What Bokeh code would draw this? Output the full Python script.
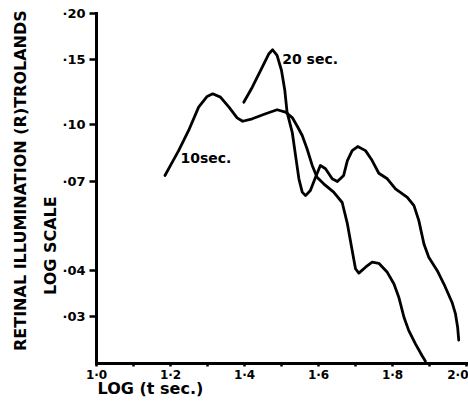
import math
from bokeh.plotting import figure
from bokeh.models import Label, FixedTicker
from bokeh.embed import file_html
from bokeh.resources import INLINE

# Data (x = log t sec, y = retinal illumination, log scale)
x_10sec = [1.185, 1.200, 1.222, 1.249, 1.276, 1.299, 1.314, 1.335, 1.358, 1.380,
           1.395, 1.421, 1.457, 1.488, 1.511, 1.529, 1.543, 1.556, 1.569, 1.583,
           1.596, 1.614, 1.641, 1.664, 1.678, 1.691, 1.700, 1.709, 1.727, 1.745,
           1.763, 1.786, 1.804, 1.817, 1.831, 1.844, 1.862, 1.880, 1.889]
y_10sec = [0.0726, 0.0773, 0.0848, 0.0962, 0.1113, 0.1190, 0.1210, 0.1185, 0.1113, 0.1041,
           0.1019, 0.1035, 0.1068, 0.1095, 0.1079, 0.1043, 0.0986, 0.0932, 0.0858, 0.0773,
           0.0718, 0.0689, 0.0654, 0.0613, 0.0537, 0.0454, 0.0405, 0.0394, 0.0409, 0.0422,
           0.0419, 0.0396, 0.0368, 0.0339, 0.0299, 0.0275, 0.0253, 0.0235, 0.0227]

x_20sec = [1.398, 1.421, 1.448, 1.466, 1.476, 1.488, 1.500, 1.509, 1.515, 1.529,
           1.538, 1.547, 1.556, 1.565, 1.578, 1.592, 1.605, 1.619, 1.637, 1.651,
           1.668, 1.678, 1.691, 1.706, 1.727, 1.745, 1.763, 1.786, 1.808, 1.840,
           1.858, 1.871, 1.885, 1.898, 1.921, 1.939, 1.961, 1.970, 1.976, 1.979]
y_20sec = [0.1148, 0.1261, 0.1429, 0.1555, 0.1594, 0.1538, 0.1400, 0.1235, 0.1079, 0.0951,
           0.0822, 0.0711, 0.0654, 0.0640, 0.0661, 0.0718, 0.0773, 0.0757, 0.0711, 0.0699,
           0.0726, 0.0797, 0.0848, 0.0870, 0.0848, 0.0797, 0.0736, 0.0711, 0.0668, 0.0633,
           0.0601, 0.0548, 0.0473, 0.0435, 0.0400, 0.0368, 0.0328, 0.0306, 0.0281, 0.0259]

x_ticks = [1.0, 1.2, 1.4, 1.6, 1.8, 2.0]
x_minor = [1.1, 1.3, 1.5, 1.7, 1.9]
x_labels = ["1·0", "1·2", "1·4", "1·6", "1·8", "2·0"]
y_ticks = [0.03, 0.04, 0.07, 0.10, 0.15, 0.20]
y_labels = ["·03", "·04", "·07", "·10", "·15", "·20"]
x_axis_span = (1.0, 2.0)
y_axis_span = (0.02238, 0.2)

FONT = "DejaVu Sans"

p = figure(width=468, height=410, x_range=(0.7405, 2.0054), y_range=(0.016682, 0.21694),
           y_axis_type="log", output_backend="svg", toolbar_location=None,
           min_border_left=0, min_border_right=0, min_border_top=0, min_border_bottom=0)
p.outline_line_color = None
p.grid.visible = False
p.background_fill_color = "white"
p.border_fill_color = "white"

for ax in (p.xaxis[0], p.yaxis[0]):
    ax.axis_line_width = 3
    ax.axis_line_color = "black"
    ax.axis_line_cap = "square"
    ax.major_tick_line_width = 2.5
    ax.minor_tick_line_width = 2.5
    ax.major_tick_in = 0
    ax.minor_tick_in = 0
    ax.major_label_text_font = FONT
    ax.major_label_text_font_style = "bold"
    ax.major_label_text_color = "black"

p.xaxis.fixed_location = y_axis_span[0]
p.xaxis.bounds = x_axis_span
p.xaxis.ticker = FixedTicker(ticks=x_ticks, minor_ticks=x_minor)
p.xaxis.major_label_overrides = dict(zip(x_ticks, x_labels))
p.xaxis.major_tick_out = 3
p.xaxis.minor_tick_out = 3
p.xaxis.major_label_standoff = 1
p.xaxis.major_label_text_font_size = "12px"

p.yaxis.fixed_location = x_axis_span[0]
p.yaxis.bounds = y_axis_span
p.yaxis.ticker = FixedTicker(ticks=y_ticks, minor_ticks=[])
p.yaxis.major_label_overrides = dict(zip(y_ticks, y_labels))
p.yaxis.major_tick_out = 7
p.yaxis.minor_tick_out = 0
p.yaxis.major_label_standoff = 4
p.yaxis.major_label_text_font_size = "13px"

p.line(x_10sec, y_10sec, line_width=2.8, line_color="black", line_join="round", line_cap="round")
p.line(x_20sec, y_20sec, line_width=2.8, line_color="black", line_join="round", line_cap="round")

def lab(x, y, text, size, angle=0.0, align="left", baseline="middle"):
    p.add_layout(Label(x=x, y=y, text=text, angle=angle, text_align=align,
                       text_baseline=baseline, text_font=FONT, text_font_style="bold",
                       text_font_size=size, text_color="black"))

lab(1.227, 0.0809, "10sec.", "14px")
lab(1.502, 0.1509, "20 sec.", "14px")
lab(0.795, 0.0703, "RETINAL ILLUMINATION (R)TROLANDS", "16px", angle=math.pi / 2, align="center")
lab(0.876, 0.0468, "LOG SCALE", "16px", angle=math.pi / 2, align="center")
lab(1.003, 0.01915, "LOG (t sec.)", "16px")

open("out.html", "w").write(file_html(p, INLINE))
